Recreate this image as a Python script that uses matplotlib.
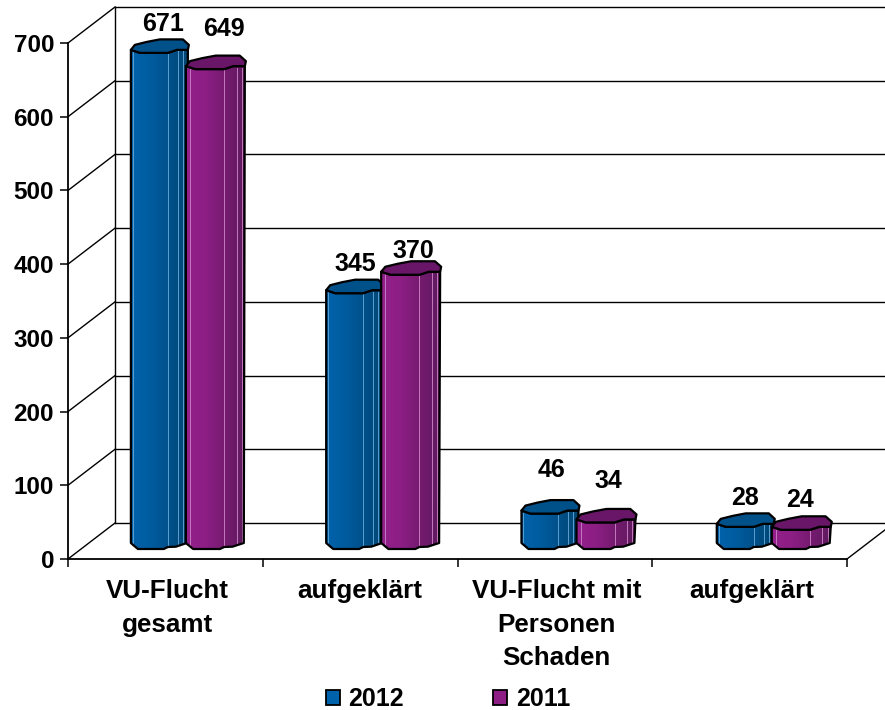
import numpy as np
import matplotlib
matplotlib.use('Agg')
import matplotlib.pyplot as plt
from matplotlib.patches import Polygon, Patch
from matplotlib.colors import LinearSegmentedColormap
from matplotlib.transforms import ScaledTranslation

plt.rcParams['font.family'] = ['Liberation Sans', 'DejaVu Sans']
plt.rcParams['font.weight'] = 'bold'
plt.rcParams['font.size'] = 17.5

categories = ['VU-Flucht\ngesamt', 'aufgeklärt', 'VU-Flucht mit\nPersonen\nSchaden', 'aufgeklärt']
values_2012 = [671, 345, 46, 28]
values_2011 = [649, 370, 34, 24]
yticks = [0, 100, 200, 300, 400, 500, 600, 700]
series_names = ['2012', '2011']

# pixel layout of the fake 3d box
W, H = 885, 710
left, right, bottom, top = 68, 847, 559, 43
depth_x, depth_y = 47, 36
px_x = 4 / (right - left)    # data units per pixel
px_y = 700 / (bottom - top)

fig = plt.figure(figsize=(W / 100, H / 100), dpi=100)
ax = fig.add_axes([left / W, 1 - bottom / H, (right - left) / W, (bottom - top) / H])
ax.set_xlim(0, 4)
ax.set_ylim(0, 700)
for s in ['top', 'right']:
    ax.spines[s].set_visible(False)
for s in ['left', 'bottom']:
    ax.spines[s].set_linewidth(1.3)
    ax.spines[s].set_zorder(1)

ax.set_yticks(yticks)
ax.set_xticks([0, 1, 2, 3, 4])
ax.set_xticklabels([])
ax.tick_params(axis='both', which='major', length=6, width=1.1, pad=4)
ax.set_xticks([0.509, 1.5, 2.51, 3.51], minor=True)
ax.set_xticklabels(categories, minor=True, linespacing=1.5, va='top', fontsize=18.7)
ax.tick_params(axis='x', which='minor', length=0, pad=14.5)

# back wall and floor
back = ax.transData + ScaledTranslation(depth_x / 100, depth_y / 100, fig.dpi_scale_trans)
for v in yticks:
    ax.plot([0, 4], [v, v], color='black', lw=1.0, transform=back, clip_on=False, zorder=1)
    ax.plot([0, depth_x * px_x], [v, v + depth_y * px_y], color='black', lw=1.0, clip_on=False, zorder=1)
ax.plot([0, 0], [0, 700], color='black', lw=1.0, transform=back, clip_on=False, zorder=1)
ax.plot([4, 4 + depth_x * px_x], [0, depth_y * px_y], color='black', lw=1.0, clip_on=False, zorder=1)

# outlines of the bars, pixels relative to left edge and centre of the ellipse
top_x = [0, 4, 16, 29, 52, 58, 57, 46, 37, 9]
top_y = [3.5, -1.5, -4.5, -7, -7, -1.5, 3.5, 3.5, 6.5, 6.5]
body_x = [0, 9, 37, 46, 57, 56, 45, 37, 33, 7, 0]
body_y = [3.5, 6.5, 6.5, 3.5, 3.5, 2, 5.7, 6, 8, 8, 2]
body_base = [False, False, False, False, False, True, True, True, True, True, True]

blue_map = LinearSegmentedColormap.from_list('b', ['#0062AB', '#005C9F', '#00508A', '#004673'])
purple_map = LinearSegmentedColormap.from_list('p', ['#94208C', '#8C1E84', '#761B70', '#5E1A5E'])
styles = [
    (blue_map, '#00508A', '#5B9FD2', [2, 37, 47, 52], 1.0),
    (purple_map, '#6A1668', '#C478BE', [4, 37, 49, 54], 60 / 58),
]
grad = np.linspace(0, 1, 64).reshape(1, -1)


def draw_bar(x0, val, style, z):
    cmap, top_col, line_col, streaks, wide = style
    unit = px_x * wide
    mid = val + depth_y / 2 * px_y
    base = depth_y / 2 * px_y
    xs = [x0 + u * unit for u in body_x]
    ys = []
    for v, b in zip(body_y, body_base):
        ys.append((base if b else mid) - v * px_y)
    body = Polygon(np.column_stack([xs, ys]), closed=True, fc='none', ec='black', lw=1.6,
                   joinstyle='round', zorder=z + 0.3, clip_on=False)
    im = ax.imshow(grad, cmap=cmap, aspect='auto', extent=[x0, x0 + 57 * unit, base - 9 * px_y, mid + 9 * px_y],
                   zorder=z, clip_on=True)
    ax.add_patch(body)
    im.set_clip_path(body)
    for u in streaks:
        ln = ax.plot([x0 + u * unit] * 2, [base - 5 * px_y, mid - 5 * px_y], color=line_col, lw=0.7, zorder=z + 0.1)[0]
        ln.set_clip_path(body)
    tx = [x0 + u * unit for u in top_x]
    ty = [mid - v * px_y for v in top_y]
    ax.add_patch(Polygon(np.column_stack([tx, ty]), closed=True, fc=top_col, ec='black', lw=1.6,
                         joinstyle='round', zorder=z + 0.5, clip_on=False))


# label offsets from the bar top, pixels
offs_2012 = [(32, 22), (29, 23), (30, 37), (28, 22)]
offs_2011 = [(38, 34), (32, 17), (32, 35), (28, 23)]

for i in range(4):
    shift = i * 0.55 * px_x
    x_blue = i + 0.5 - 34.5 * px_x + shift
    x_purple = i + 0.5 + 20.5 * px_x + shift
    draw_bar(x_blue, values_2012[i], styles[0], 3 + i)
    draw_bar(x_purple, values_2011[i], styles[1], 3.6 + i)
    for x0, val, off in [(x_blue, values_2012[i], offs_2012[i]), (x_purple, values_2011[i], offs_2011[i])]:
        ax.text(x0 + off[0] * px_x, val + depth_y / 2 * px_y + off[1] * px_y, str(val),
                ha='center', va='center', zorder=20, clip_on=False, fontsize=18)

ax.set_xlim(0, 4)
ax.set_ylim(0, 700)

handles = [Patch(fc='#0062AB', ec='black', lw=1.3), Patch(fc='#8C1E84', ec='black', lw=1.3)]
fig.legend(handles, series_names, loc='center', bbox_to_anchor=(448 / W, 1 - 699 / H), ncol=2, frameon=False,
           handlelength=0.55, handleheight=0.55, handletextpad=0.35, columnspacing=3.58, borderpad=0, fontsize=18)

fig.savefig('out.png', dpi=100)
